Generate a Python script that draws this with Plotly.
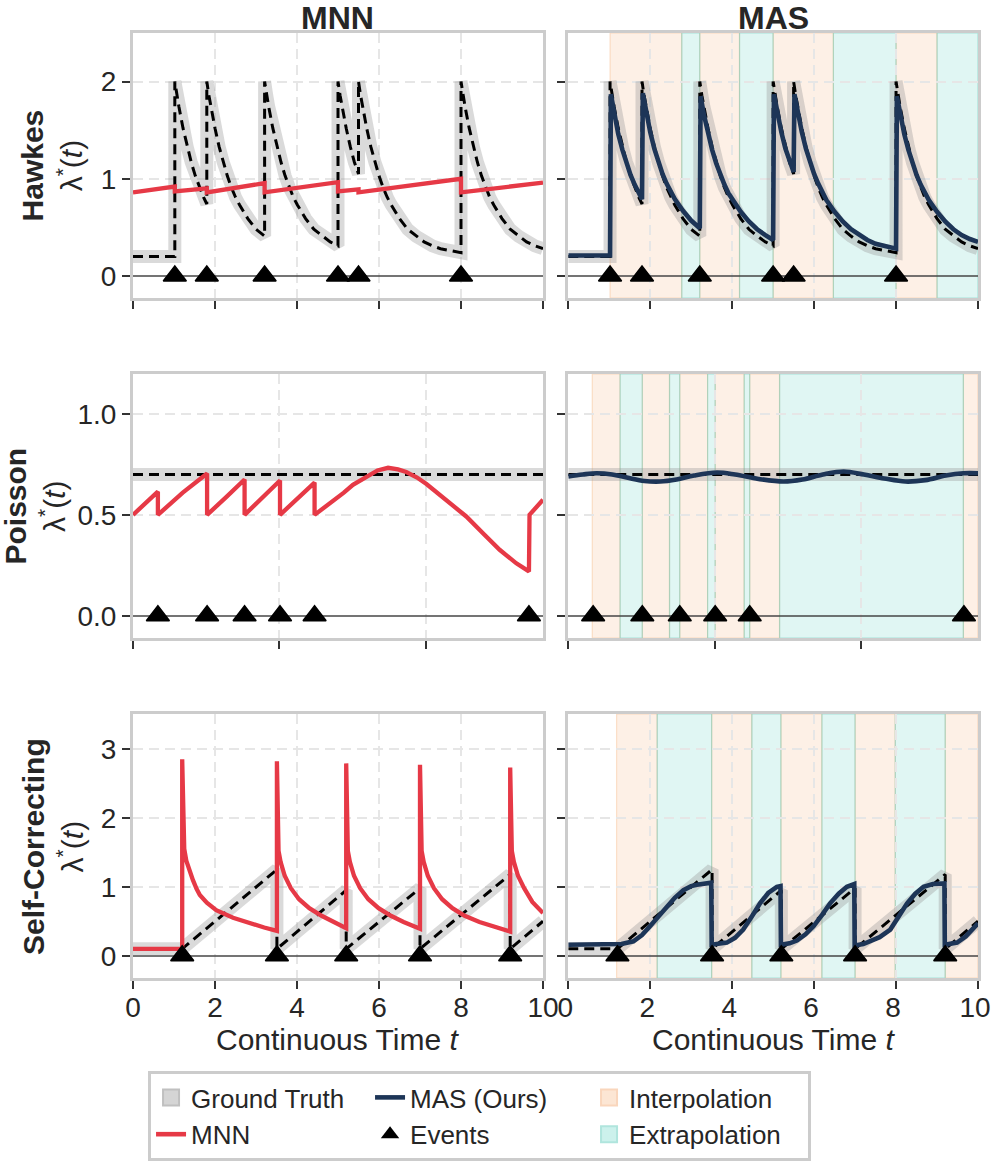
import plotly.graph_objects as go

# ---------------- data ----------------
# Hawkes row (time 0..10)
hawkes_events = [1.02, 1.80, 3.21, 5.00, 5.50, 8.00]
hawkes_gt = [
    (0.00, 0.20), (1.02, 0.20),
    (1.02, 2.00), (1.07, 1.86), (1.12, 1.74), (1.22, 1.52), (1.32, 1.33), (1.42, 1.17), (1.52, 1.03),
    (1.62, 0.91), (1.72, 0.81), (1.80, 0.74),
    (1.80, 2.00), (1.85, 1.86), (1.90, 1.74), (2.00, 1.52), (2.10, 1.33), (2.20, 1.17), (2.30, 1.03),
    (2.40, 0.91), (2.50, 0.81), (2.60, 0.73), (2.80, 0.59), (3.00, 0.48), (3.21, 0.41),
    (3.21, 2.00), (3.26, 1.86), (3.31, 1.74), (3.41, 1.52), (3.51, 1.33), (3.61, 1.17), (3.71, 1.03),
    (3.81, 0.91), (3.91, 0.81), (4.01, 0.73), (4.21, 0.59), (4.41, 0.48), (4.61, 0.41), (4.81, 0.35),
    (5.00, 0.31),
    (5.00, 2.00), (5.05, 1.86), (5.10, 1.74), (5.20, 1.52), (5.30, 1.33), (5.40, 1.17), (5.50, 1.05),
    (5.50, 2.00), (5.55, 1.86), (5.60, 1.74), (5.70, 1.52), (5.80, 1.33), (5.90, 1.17), (6.00, 1.03),
    (6.10, 0.91), (6.20, 0.81), (6.30, 0.73), (6.50, 0.59), (6.70, 0.48), (6.90, 0.41), (7.10, 0.35),
    (7.30, 0.31), (7.50, 0.28), (7.75, 0.26), (8.00, 0.24),
    (8.00, 2.00), (8.05, 1.86), (8.10, 1.74), (8.20, 1.52), (8.30, 1.33), (8.40, 1.17), (8.50, 1.03),
    (8.60, 0.91), (8.70, 0.81), (8.80, 0.73), (9.00, 0.59), (9.20, 0.48), (9.40, 0.41), (9.60, 0.35),
    (9.80, 0.31), (10.00, 0.28),
]
hawkes_mnn = [
    (0.00, 0.86), (1.02, 0.92), (1.02, 0.87), (1.80, 0.90), (1.80, 0.86), (3.21, 0.955),
    (3.21, 0.86), (5.00, 0.965), (5.00, 0.87), (5.50, 0.89), (5.50, 0.86), (8.00, 1.00),
    (8.00, 0.86), (10.00, 0.96),
]
hawkes_mas = [
    (0.00, 0.21), (1.02, 0.21),
    (1.04, 1.87), (1.12, 1.66), (1.22, 1.46), (1.32, 1.30), (1.42, 1.16), (1.52, 1.04), (1.62, 0.94),
    (1.72, 0.85), (1.80, 0.79),
    (1.82, 1.88), (1.90, 1.68), (2.00, 1.48), (2.10, 1.31), (2.20, 1.17), (2.30, 1.05), (2.40, 0.95),
    (2.50, 0.86), (2.60, 0.79), (2.80, 0.67), (3.00, 0.57), (3.21, 0.49),
    (3.23, 1.85), (3.31, 1.66), (3.41, 1.46), (3.51, 1.30), (3.61, 1.16), (3.71, 1.04), (3.81, 0.94),
    (3.91, 0.85), (4.01, 0.78), (4.21, 0.66), (4.41, 0.56), (4.61, 0.48), (4.81, 0.42), (5.00, 0.37),
    (5.02, 1.87), (5.10, 1.68), (5.20, 1.48), (5.30, 1.31), (5.40, 1.17), (5.50, 1.07),
    (5.52, 1.87), (5.60, 1.68), (5.70, 1.48), (5.80, 1.31), (5.90, 1.17), (6.00, 1.05), (6.10, 0.95),
    (6.20, 0.86), (6.30, 0.78), (6.50, 0.66), (6.70, 0.56), (6.90, 0.48), (7.10, 0.42), (7.30, 0.37),
    (7.50, 0.33), (7.75, 0.30), (8.00, 0.28),
    (8.02, 1.85), (8.10, 1.66), (8.20, 1.46), (8.30, 1.30), (8.40, 1.16), (8.50, 1.04), (8.60, 0.94),
    (8.70, 0.85), (8.80, 0.78), (9.00, 0.66), (9.20, 0.56), (9.40, 0.48), (9.60, 0.42), (9.80, 0.38),
    (10.00, 0.35),
]
hawkes_interp = [(1.02, 2.77), (3.21, 4.18), (5.00, 6.47), (8.00, 9.00)]
hawkes_extrap = [(2.77, 3.21), (4.18, 5.00), (6.47, 8.00), (9.00, 10.00)]

# Poisson row (time 0..14)
poisson_events = [0.85, 2.53, 3.81, 5.02, 6.20, 13.52]
poisson_gt = [(0.0, 0.70), (14.0, 0.70)]
poisson_mnn = [
    (0.00, 0.50), (0.45, 0.56), (0.85, 0.615), (0.85, 0.50), (1.70, 0.61), (2.53, 0.705),
    (2.53, 0.50), (3.20, 0.59), (3.81, 0.675), (3.81, 0.50), (4.40, 0.585), (5.02, 0.67),
    (5.02, 0.50), (5.60, 0.58), (6.20, 0.66), (6.20, 0.50), (6.83, 0.566), (7.20, 0.61),
    (7.51, 0.649), (7.97, 0.69), (8.35, 0.72), (8.71, 0.733), (9.05, 0.725), (9.33, 0.712),
    (9.70, 0.685), (10.02, 0.653), (10.35, 0.614), (10.70, 0.574), (11.38, 0.492), (11.95, 0.409),
    (12.52, 0.327), (13.09, 0.26), (13.52, 0.22), (13.54, 0.50), (13.94, 0.57), (14.00, 0.575),
]
poisson_mas = [
    (0.00, 0.690), (0.50, 0.700), (0.97, 0.706), (1.50, 0.700), (2.00, 0.685), (2.60, 0.668),
    (3.14, 0.665), (3.70, 0.675), (4.30, 0.695), (5.08, 0.710), (5.70, 0.700), (6.50, 0.678),
    (7.36, 0.665), (8.00, 0.675), (8.70, 0.700), (9.41, 0.715), (10.10, 0.700), (10.80, 0.680),
    (11.52, 0.665), (12.20, 0.672), (12.90, 0.695), (13.50, 0.706), (14.00, 0.706),
]
poisson_interp = [(0.82, 1.77), (2.53, 3.46), (3.81, 4.76), (5.02, 6.01), (6.20, 7.22), (13.50, 14.0)]
poisson_extrap = [(1.77, 2.53), (3.46, 3.81), (4.76, 5.02), (6.01, 6.20), (7.22, 13.50)]

# Self-correcting row (time 0..10)
sc_events = [1.20, 3.51, 5.20, 7.00, 9.20]
sc_gt = [
    (0.00, 0.10), (1.20, 0.10), (3.51, 1.25), (3.51, 0.10), (5.20, 0.95), (5.20, 0.10),
    (7.00, 0.98), (7.00, 0.10), (9.20, 1.18), (9.20, 0.10), (10.00, 0.50),
]
sc_mnn = [
    (0.00, 0.10), (1.20, 0.10),
    (1.20, 2.85), (1.25, 1.55), (1.30, 1.38), (1.38, 1.22), (1.46, 1.10), (1.55, 0.97), (1.63, 0.88),
    (1.80, 0.77), (2.03, 0.66), (2.44, 0.55), (2.85, 0.47), (3.20, 0.41), (3.51, 0.36),
    (3.51, 2.82), (3.55, 1.52), (3.60, 1.36), (3.70, 1.16), (3.85, 0.98), (4.05, 0.82), (4.30, 0.69),
    (4.60, 0.58), (4.90, 0.49), (5.20, 0.40),
    (5.20, 2.79), (5.24, 1.52), (5.29, 1.36), (5.39, 1.16), (5.54, 0.98), (5.74, 0.82), (5.99, 0.69),
    (6.29, 0.58), (6.60, 0.49), (7.00, 0.39),
    (7.00, 2.77), (7.04, 1.52), (7.09, 1.36), (7.19, 1.16), (7.34, 0.98), (7.54, 0.82), (7.79, 0.69),
    (8.09, 0.58), (8.45, 0.49), (8.80, 0.42), (9.20, 0.35),
    (9.20, 2.73), (9.24, 1.52), (9.29, 1.36), (9.39, 1.16), (9.54, 0.98), (9.74, 0.78), (10.00, 0.62),
]
sc_mas = [
    (0.00, 0.16), (1.00, 0.16), (1.30, 0.17), (1.59, 0.21), (1.80, 0.30), (2.00, 0.43), (2.20, 0.57),
    (2.40, 0.71), (2.60, 0.84), (2.81, 0.95), (3.00, 1.01), (3.14, 1.03), (3.30, 1.05), (3.49, 1.06),
    (3.50, 0.16), (3.70, 0.17), (3.87, 0.19), (4.07, 0.26), (4.27, 0.38), (4.48, 0.57), (4.68, 0.76),
    (4.88, 0.91), (5.09, 1.00), (5.18, 1.01),
    (5.19, 0.16), (5.40, 0.18), (5.58, 0.22), (5.79, 0.31), (5.99, 0.43), (6.19, 0.59), (6.39, 0.76),
    (6.60, 0.90), (6.80, 1.00), (6.98, 1.04),
    (6.99, 0.15), (7.20, 0.17), (7.37, 0.21), (7.60, 0.27), (7.86, 0.38), (8.07, 0.57), (8.27, 0.76),
    (8.47, 0.90), (8.67, 1.00), (8.90, 1.04), (9.18, 1.05),
    (9.19, 0.16), (9.35, 0.17), (9.49, 0.19), (9.70, 0.28), (9.93, 0.43), (10.00, 0.47),
]
sc_interp = [(1.18, 2.17), (3.50, 4.48), (5.19, 6.19), (7.00, 7.98), (9.20, 10.0)]
sc_extrap = [(2.17, 3.50), (4.48, 5.19), (6.19, 7.00), (7.98, 9.20)]

row_names = ["Hawkes", "Poisson", "Self-Correcting"]
col_names = ["MNN", "MAS"]
xtick_vals = [[0, 2, 4, 6, 8, 10], [0, 5, 10], [0, 2, 4, 6, 8, 10]]
x_max = [10, 14, 10]
ytick_vals = [[0, 1, 2], [0.0, 0.5, 1.0], [0, 1, 2, 3]]
y_ranges = [[-0.227, 2.5], [-0.11, 1.198], [-0.323, 3.507]]
x_title = "Continuous Time <i>t</i>"

# ---------------- styles ----------------
FONT = "Liberation Sans, Arial, Helvetica, sans-serif"
TEXT = "#262626"
RED = "#e63946"
NAVY = "#1d3557"
GT_BAND = "rgba(150,150,150,0.35)"
INTERP_FILL = "rgba(244,162,97,0.16)"
INTERP_EDGE = "rgba(244,162,97,0.30)"
EXTRAP_FILL = "rgba(60,200,180,0.16)"
EXTRAP_EDGE = "rgba(60,190,170,0.35)"

col_dom = [[0.0, 0.4852], [0.5151, 1.0]]
row_dom = [[0.7196, 1.0], [0.3598, 0.6392], [0.0, 0.2794]]
row_label_x = [-0.0947, -0.1165, -0.0947]

rows_data = [
    (hawkes_gt, hawkes_mnn, hawkes_mas, hawkes_events, hawkes_interp, hawkes_extrap, "linear"),
    (poisson_gt, poisson_mnn, poisson_mas, poisson_events, poisson_interp, poisson_extrap, "spline"),
    (sc_gt, sc_mnn, sc_mas, sc_events, sc_interp, sc_extrap, "linear"),
]


def xs(pts):
    return [p[0] for p in pts]


def ys(pts):
    return [p[1] for p in pts]


fig = go.Figure()
layout = dict(shapes=[], annotations=[])

for r in range(3):
    gt, mnn, mas, events, interp, extrap, mas_shape = rows_data[r]
    for c in range(2):
        k = r * 2 + c + 1
        xa = "x" if k == 1 else f"x{k}"
        ya = "y" if k == 1 else f"y{k}"
        xkey = "xaxis" if k == 1 else f"xaxis{k}"
        ykey = "yaxis" if k == 1 else f"yaxis{k}"

        # shading (MAS panels)
        if c == 1:
            for (a, b) in interp:
                layout["shapes"].append(dict(type="rect", xref=xa, yref=f"{ya} domain", x0=a, x1=b,
                                             y0=0, y1=1, fillcolor=INTERP_FILL,
                                             line=dict(color=INTERP_EDGE, width=1.2), layer="below"))
            for (a, b) in extrap:
                layout["shapes"].append(dict(type="rect", xref=xa, yref=f"{ya} domain", x0=a, x1=b,
                                             y0=0, y1=1, fillcolor=EXTRAP_FILL,
                                             line=dict(color=EXTRAP_EDGE, width=1.2), layer="below"))

        # ground truth band + dashed
        fig.add_trace(go.Scatter(x=xs(gt), y=ys(gt), mode="lines", xaxis=xa, yaxis=ya,
                                 line=dict(color=GT_BAND, width=13), showlegend=False, hoverinfo="skip"))
        fig.add_trace(go.Scatter(x=xs(gt), y=ys(gt), mode="lines", xaxis=xa, yaxis=ya,
                                 line=dict(color="black", width=3, dash="10px,6px"),
                                 showlegend=False, hoverinfo="skip"))
        # model
        if c == 0:
            fig.add_trace(go.Scatter(x=xs(mnn), y=ys(mnn), mode="lines", xaxis=xa, yaxis=ya,
                                     line=dict(color=RED, width=4.3), showlegend=False))
        else:
            fig.add_trace(go.Scatter(x=xs(mas), y=ys(mas), mode="lines", xaxis=xa, yaxis=ya,
                                     line=dict(color=NAVY, width=4.6, shape=mas_shape), showlegend=False))
        # events
        fig.add_trace(go.Scatter(x=events, y=[0] * len(events), mode="markers", xaxis=xa, yaxis=ya,
                                 marker=dict(symbol="triangle-up", size=20, color="black",
                                             line=dict(color="black", width=1.5)),
                                 showlegend=False, cliponaxis=False))

        layout[xkey] = dict(
            domain=col_dom[c], anchor=ya, range=[0, x_max[r]], tickvals=xtick_vals[r],
            showticklabels=(r == 2), ticks="outside", ticklen=8, tickwidth=2, tickcolor="#333333",
            showline=True, linecolor="#cccccc", linewidth=3, mirror=True,
            showgrid=True, gridcolor="#e6e6e6", gridwidth=2, griddash="10px,6px",
            zeroline=False, tickfont=dict(size=28, color=TEXT), automargin=False,
            ticklabeloverflow="allow", ticklabelstandoff=-6,
            ticklabelshift=(-3 if c == 1 else 0),
        )
        layout[ykey] = dict(
            domain=row_dom[r], anchor=xa, range=y_ranges[r], tickvals=ytick_vals[r],
            tickformat=(".1f" if r == 1 else "d"),
            showticklabels=(c == 0), ticks="outside", ticklen=8, tickwidth=2, tickcolor="#333333",
            showline=True, linecolor="#cccccc", linewidth=3, mirror=True,
            showgrid=True, gridcolor="#e6e6e6", gridwidth=2, griddash="10px,6px",
            zeroline=True, zerolinecolor="rgba(70,70,70,0.75)", zerolinewidth=2,
            tickfont=dict(size=28, color=TEXT), automargin=False,
        )

# x-axis titles (bottom row)
for c in range(2):
    layout["annotations"].append(dict(text=x_title, x=sum(col_dom[c]) / 2, y=-0.0656,
                                      xref="paper", yref="paper", showarrow=False,
                                      xanchor="center", yanchor="middle",
                                      font=dict(size=30, color=TEXT)))
# column titles
for c in range(2):
    layout["annotations"].append(dict(text=f"<b>{col_names[c]}</b>", x=sum(col_dom[c]) / 2, y=1.0,
                                      xref="paper", yref="paper", showarrow=False,
                                      xanchor="center", yanchor="bottom", yshift=-5,
                                      font=dict(size=32, color=TEXT)))
# row labels
for r in range(3):
    layout["annotations"].append(dict(text=f"<b>{row_names[r]}</b><br>λ<sup>*</sup>(<i>t</i>)",
                                      x=row_label_x[r], y=sum(row_dom[r]) / 2, xref="paper", yref="paper",
                                      showarrow=False, textangle=-90, xanchor="center", yanchor="middle",
                                      font=dict(size=30, color=TEXT)))

# legend entries
legend_items = [
    ("Ground Truth", "patch", "rgb(213,213,213)", "rgb(192,192,192)"),
    ("MAS (Ours)", "line", NAVY, None),
    ("Interpolation", "patch", "rgb(252,230,212)", "rgb(249,214,188)"),
    ("MNN", "line", RED, None),
    ("Events", "marker", "black", None),
    ("Extrapolation", "patch", "rgb(204,241,236)", "rgb(176,229,221)"),
]
for rank, (name, kind, color, edge) in enumerate(legend_items):
    if kind == "line":
        tr = go.Scatter(x=[None], y=[None], mode="lines", name=name, line=dict(color=color, width=4.6))
    elif kind == "marker":
        tr = go.Scatter(x=[None], y=[None], mode="markers", name=name,
                        marker=dict(symbol="triangle-up", size=16, color=color))
    else:
        tr = go.Scatter(x=[None], y=[None], mode="markers", name=name,
                        marker=dict(symbol="square", size=16, color=color, line=dict(color=edge, width=2)))
    tr.update(legendrank=rank + 1, showlegend=True, xaxis="x", yaxis="y")
    fig.add_trace(tr)

fig.update_layout(
    width=992, height=1163,
    margin=dict(l=133, r=14, t=33, b=185, autoexpand=False),
    paper_bgcolor="white", plot_bgcolor="white",
    font=dict(family=FONT, size=28, color=TEXT),
    showlegend=True,
    legend=dict(orientation="h", x=0.0178, xanchor="left", y=-0.0984, yanchor="top",
                bordercolor="#cccccc", borderwidth=3, bgcolor="white",
                font=dict(size=26, color=TEXT), entrywidth=174, entrywidthmode="pixels",
                traceorder="normal"),
    **layout,
)

fig.write_html("out.html")
